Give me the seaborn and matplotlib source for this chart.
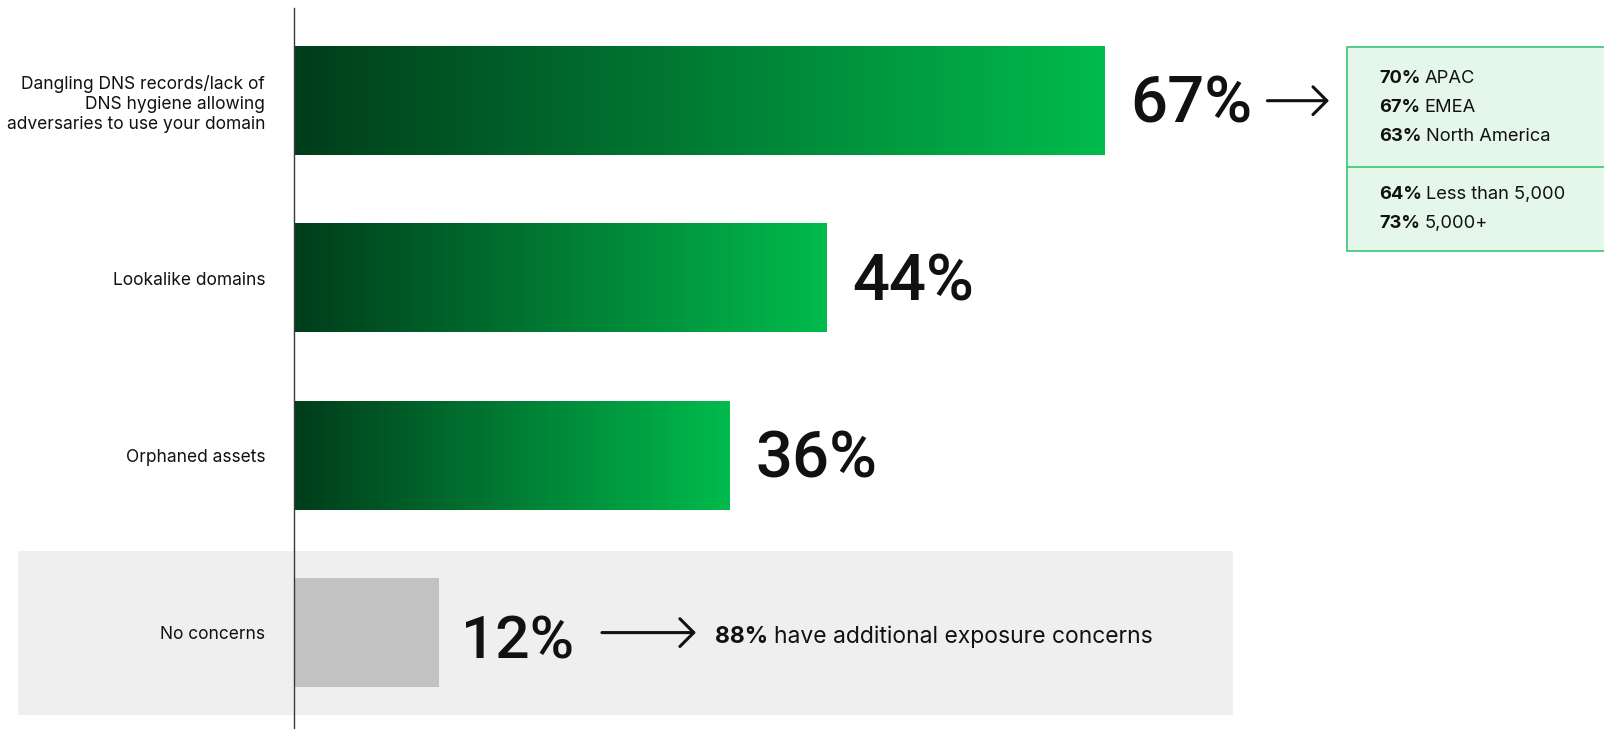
import numpy as np
import pandas as pd
import matplotlib
matplotlib.use("Agg")
import matplotlib.pyplot as plt
from matplotlib import transforms
from matplotlib.patches import Rectangle
from matplotlib.lines import Line2D
from matplotlib.colors import LinearSegmentedColormap
import seaborn as sns

# ---- data -------------------------------------------------------------
categories = [
    "Dangling DNS records/lack of\nDNS hygiene allowing\nadversaries to use your domain",
    "Lookalike domains",
    "Orphaned assets",
    "No concerns",
]
values = [67, 44, 36, 12]

region_names = ["APAC", "EMEA", "North America"]
region_values = [70, 67, 63]
size_names = ["Less than 5,000", "5,000+"]
size_values = [64, 73]
additional_share = 88

# ---- style ------------------------------------------------------------
W, H = 1604, 729
sns.set_theme(style="white")
plt.rcParams["font.family"] = ["Inter", "DejaVu Sans"]
BIG = ["Roboto", "DejaVu Sans"]
INK = "#111111"

fig = plt.figure(figsize=(W / 100, H / 100), dpi=100)
fig.patch.set_facecolor("white")
# pixel coordinates with the origin at the top-left corner
px = transforms.Affine2D().scale(1 / W, -1 / H).translate(0, 1) + fig.transFigure

axis_x = 293.6
px_per_pct = 12.1
row0, row_step = 100.7, 177.3

ax = fig.add_axes([axis_x / W, 0, 1 - axis_x / W, 1])
ax.patch.set_visible(False)

df = pd.DataFrame({"concern": categories, "share": values})
sns.barplot(data=df, x="share", y="concern", orient="h", width=0.612,
            color="#c2c2c2", saturation=1, ax=ax, zorder=2)

xlim = (0, (W - axis_x) / px_per_pct)
ylim = ((H - row0) / row_step, -row0 / row_step)

# green gradient fill on the concern bars
green = LinearSegmentedColormap.from_list("grad", ["#013d1b", "#00bb4d"])
grad = np.linspace(0, 1, 512)[None, :]
bars = list(ax.patches)[: len(values)]
for p in bars[:3]:
    x0, y0 = p.get_x(), p.get_y()
    x1, y1 = x0 + p.get_width(), y0 + p.get_height()
    p.set_facecolor("none")
    p.set_edgecolor("none")
    ax.imshow(grad, cmap=green, extent=(x0, x1, y1, y0), aspect="auto",
              interpolation="bilinear", zorder=2)
bars[3].set_edgecolor("none")
ax.set_xlim(*xlim)
ax.set_ylim(*ylim)

# light panel behind the "No concerns" row
ax.add_patch(Rectangle((18.4, 551), 1233 - 18.4, 715 - 551, transform=px,
                       facecolor="#efefef", edgecolor="none", clip_on=False, zorder=0))

# axes cosmetics
for s in ["top", "right", "bottom"]:
    ax.spines[s].set_visible(False)
ax.spines["left"].set_color("#3a3a3a")
ax.spines["left"].set_linewidth(1.0)
ax.spines["left"].set_zorder(3)
ax.spines["left"].set_bounds(-(row0 - 8) / row_step, ylim[0])
ax.set_xticks([])
ax.set_xlabel("")
ax.set_ylabel("")
ax.tick_params(axis="y", length=0, pad=20.5, labelsize=12.5, labelcolor=INK)
for lbl in ax.get_yticklabels():
    lbl.set_linespacing(1.2)

# value labels
labels = []
for i, (p, v) in enumerate(zip(bars, values)):
    xe = p.get_x() + p.get_width()
    yc = p.get_y() + p.get_height() / 2
    if i < 3:
        t = ax.annotate(f"{v}%", xy=(xe, yc), xytext=(26, -22),
                        textcoords="offset pixels", ha="left", va="baseline",
                        fontsize=47, fontweight="medium", family=BIG, color=INK)
    else:
        t = ax.annotate(f"{v}%", xy=(xe, yc), xytext=(22, -25.5),
                        textcoords="offset pixels", ha="left", va="baseline",
                        fontsize=43.5, fontweight="medium", family=BIG, color=INK)
    labels.append(t)

fig.canvas.draw()
renderer = fig.canvas.get_renderer()


def arrow(x_start, x_end, y):
    ax.annotate("", xy=(x_end, y), xytext=(x_start, y),
                xycoords="figure pixels", textcoords="figure pixels",
                arrowprops=dict(arrowstyle="->,head_length=0.5,head_width=0.5",
                                lw=2.2, color=INK, shrinkA=0, shrinkB=0,
                                mutation_scale=20))


# arrow from the first value to the breakdown box
box_top, box_mid, box_bot, box_left = 46.5, 167, 251, 1347
e0 = labels[0].get_window_extent(renderer)
yc0 = ax.transData.transform((0, bars[0].get_y() + bars[0].get_height() / 2))[1]
arrow(e0.x1 + 15, min(e0.x1 + 111, box_left - 18), yc0)

# arrow from "No concerns" to the complement statement
e3 = labels[3].get_window_extent(renderer)
yc3 = ax.transData.transform((0, bars[3].get_y() + bars[3].get_height() / 2))[1]
arrow(e3.x1 + 28, e3.x1 + 122, yc3)

b88 = ax.text(e3.x1 + 141, yc3 - 10.5, f"{additional_share}%", fontsize=16.5,
              fontweight="bold", color=INK, ha="left", va="baseline",
              transform=transforms.IdentityTransform())
ax.annotate("have additional exposure concerns", xy=(1, 0), xycoords=b88,
            xytext=(6, 0), textcoords="offset pixels", ha="left", va="bottom",
            fontsize=16.5, color=INK)

# breakdown box
ax.add_patch(Rectangle((box_left, box_top), 320, box_bot - box_top, transform=px,
                       facecolor="#e5f6eb", edgecolor="#3cc574", lw=1.2,
                       clip_on=False, zorder=1))
ax.add_line(Line2D([box_left, W + 5], [box_mid, box_mid], transform=px,
                   color="#3cc574", lw=1.2, clip_on=False, zorder=1))

rows = list(zip(region_values, region_names, [83.3, 111.7, 141.0])) + \
       list(zip(size_values, size_names, [199.3, 227.7]))
for val, name, base in rows:
    bt = ax.text(1379, base, f"{val}%", transform=px, fontsize=13.2,
                 fontweight="bold", color=INK, ha="left", va="baseline")
    ax.annotate(name, xy=(1, 0), xycoords=bt, xytext=(4.5, 0),
                textcoords="offset pixels", ha="left", va="bottom",
                fontsize=13.2, color=INK)

fig.savefig("out.png", dpi=100, facecolor="white")
